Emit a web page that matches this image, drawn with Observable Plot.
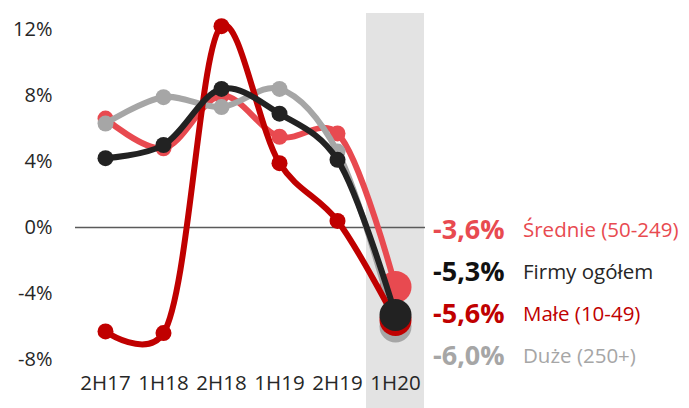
<!DOCTYPE html>
<html>
<head>
<meta charset="utf-8">
<script src="https://cdn.jsdelivr.net/npm/d3@7"></script>
<script src="https://cdn.jsdelivr.net/npm/@observablehq/plot@0.6"></script>
<style>
  html, body { margin: 0; padding: 0; background: #fff; }
  #wrap { position: relative; width: 689px; height: 408px; font-family: "Open Sans", sans-serif; }
  #legend { position: absolute; left: 433px; top: 206px; }
  .row { height: 42px; line-height: 42px; white-space: nowrap; }
  .val { display: inline-block; width: 90px; font-weight: bold; font-size: 27px; vertical-align: middle; }
  .name { font-size: 20.5px; vertical-align: middle; }
</style>
</head>
<body>
<div id="wrap"><div id="legend"></div></div>
<script>
// ---- data ----
const categories = ["2H17", "1H18", "2H18", "1H19", "2H19", "1H20"];
const highlighted = "1H20";
const yTicks = [-8, -4, 0, 4, 8, 12];

const seriesNames = ["Średnie (50-249)", "Firmy ogółem", "Małe (10-49)", "Duże (250+)"];
const seriesColors = ["#E84A50", "#222222", "#C00000", "#A6A6A6"];
const nameColors = ["#E84A50", "#262626", "#C00000", "#A6A6A6"];

const sredValues  = [6.6, 4.8, 8.0, 5.5, 5.7, -3.6];
const ogolemValues = [4.2, 5.0, 8.4, 6.9, 4.1, -5.3];
const maleValues  = [-6.3, -6.4, 12.2, 3.9, 0.4, -5.6];
const duzeValues  = [6.3, 7.9, 7.3, 8.4, 4.6, -6.0];

const seriesValues = [sredValues, ogolemValues, maleValues, duzeValues];
// drawing order (bottom to top): Średnie, Duże, Małe, Firmy
const drawOrder = [0, 3, 2, 1];

const yMin = -10.97, yMax = 12.97;

const marks = [
  Plot.barY([highlighted], {x: d => d, y1: () => yMin, y2: () => yMax, fill: "#E3E3E3"}),
  Plot.ruleY([0], {stroke: "#5a5a5a", strokeWidth: 1.5}),
  Plot.axisY(yTicks, {tickSize: 0, tickPadding: 23, tickFormat: d => d + "%", fontSize: 20, fill: "#262626", label: null}),
  Plot.text(categories, {x: d => d, frameAnchor: "bottom", dy: -19, fontSize: 20.5, fill: "#262626"})
];

for (const i of drawOrder) {
  const rows = categories.map((c, j) => ({cat: c, v: seriesValues[i][j]}));
  const color = seriesColors[i];
  marks.push(Plot.line(rows, {x: "cat", y: "v", stroke: color, strokeWidth: 6, curve: "catmull-rom", tension: 0.25}));
  marks.push(Plot.dot(rows.filter(d => d.cat !== highlighted), {x: "cat", y: "v", r: 8, fill: color}));
  marks.push(Plot.dot(rows.filter(d => d.cat === highlighted), {x: "cat", y: "v", r: 16, fill: color}));
}

const chart = Plot.plot({
  width: 689,
  height: 408,
  marginLeft: 75,
  marginRight: 264,
  marginTop: 13,
  marginBottom: 0,
  style: {fontFamily: "Open Sans, sans-serif", fontSize: "20px", background: "transparent"},
  x: {type: "band", domain: categories, padding: 0, axis: null},
  y: {domain: [yMin, yMax], axis: null},
  marks
});
const wrap = document.getElementById("wrap");
wrap.insertBefore(chart, wrap.firstChild);

const legend = document.getElementById("legend");
seriesNames.forEach((name, i) => {
  const last = seriesValues[i][seriesValues[i].length - 1];
  const row = document.createElement("div");
  row.className = "row";
  const val = document.createElement("span");
  val.className = "val";
  val.style.color = i === 1 ? "#111111" : seriesColors[i];
  val.textContent = last.toFixed(1).replace(".", ",") + "%";
  const nm = document.createElement("span");
  nm.className = "name";
  nm.style.color = nameColors[i];
  nm.textContent = name;
  row.appendChild(val);
  row.appendChild(nm);
  legend.appendChild(row);
});
</script>
</body>
</html>
